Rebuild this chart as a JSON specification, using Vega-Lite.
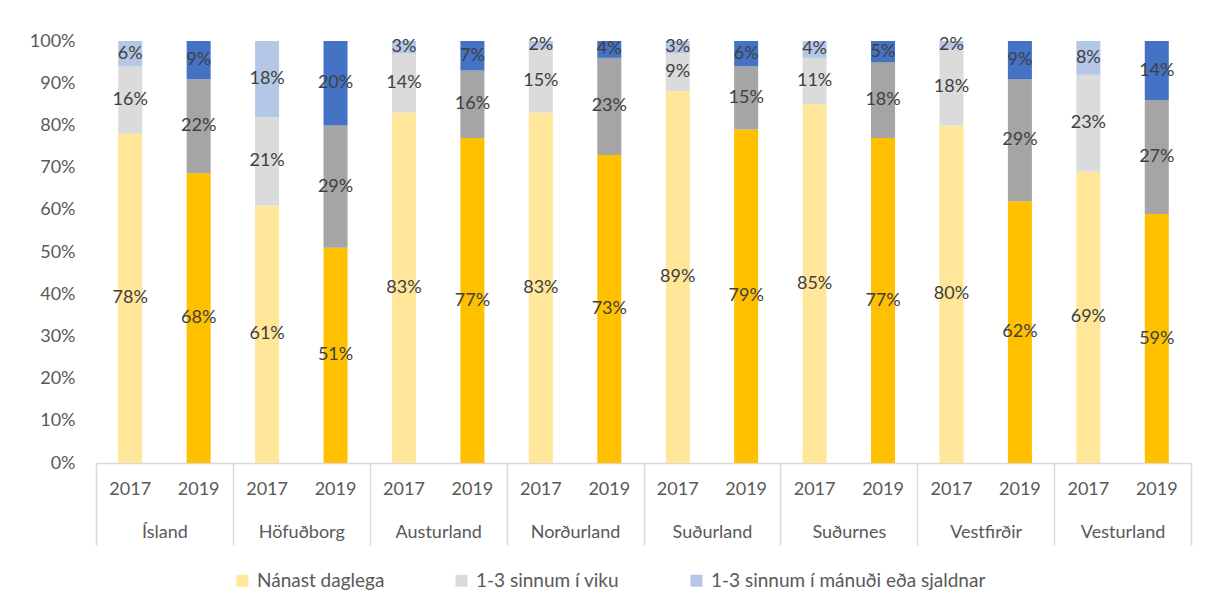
{
  "$schema": "https://vega.github.io/schema/vega-lite/v6.json",
  "autosize": {"type": "none"},
  "padding": {"left": 96, "top": 41, "right": 17, "bottom": 147},
  "width": 1095,
  "height": 422,
  "background": "#ffffff",
  "config": {"view": {"stroke": null}, "font": "Lato"},
  "data": {
    "values": [
      {"region": "Ísland", "year": "2017", "cat": "Nánast daglega", "pct": 78},
      {"region": "Ísland", "year": "2017", "cat": "1-3 sinnum í viku", "pct": 16},
      {"region": "Ísland", "year": "2017", "cat": "1-3 sinnum í mánuði eða sjaldnar", "pct": 6},
      {"region": "Ísland", "year": "2019", "cat": "Nánast daglega", "pct": 68},
      {"region": "Ísland", "year": "2019", "cat": "1-3 sinnum í viku", "pct": 22},
      {"region": "Ísland", "year": "2019", "cat": "1-3 sinnum í mánuði eða sjaldnar", "pct": 9},
      {"region": "Höfuðborg", "year": "2017", "cat": "Nánast daglega", "pct": 61},
      {"region": "Höfuðborg", "year": "2017", "cat": "1-3 sinnum í viku", "pct": 21},
      {"region": "Höfuðborg", "year": "2017", "cat": "1-3 sinnum í mánuði eða sjaldnar", "pct": 18},
      {"region": "Höfuðborg", "year": "2019", "cat": "Nánast daglega", "pct": 51},
      {"region": "Höfuðborg", "year": "2019", "cat": "1-3 sinnum í viku", "pct": 29},
      {"region": "Höfuðborg", "year": "2019", "cat": "1-3 sinnum í mánuði eða sjaldnar", "pct": 20},
      {"region": "Austurland", "year": "2017", "cat": "Nánast daglega", "pct": 83},
      {"region": "Austurland", "year": "2017", "cat": "1-3 sinnum í viku", "pct": 14},
      {"region": "Austurland", "year": "2017", "cat": "1-3 sinnum í mánuði eða sjaldnar", "pct": 3},
      {"region": "Austurland", "year": "2019", "cat": "Nánast daglega", "pct": 77},
      {"region": "Austurland", "year": "2019", "cat": "1-3 sinnum í viku", "pct": 16},
      {"region": "Austurland", "year": "2019", "cat": "1-3 sinnum í mánuði eða sjaldnar", "pct": 7},
      {"region": "Norðurland", "year": "2017", "cat": "Nánast daglega", "pct": 83},
      {"region": "Norðurland", "year": "2017", "cat": "1-3 sinnum í viku", "pct": 15},
      {"region": "Norðurland", "year": "2017", "cat": "1-3 sinnum í mánuði eða sjaldnar", "pct": 2},
      {"region": "Norðurland", "year": "2019", "cat": "Nánast daglega", "pct": 73},
      {"region": "Norðurland", "year": "2019", "cat": "1-3 sinnum í viku", "pct": 23},
      {"region": "Norðurland", "year": "2019", "cat": "1-3 sinnum í mánuði eða sjaldnar", "pct": 4},
      {"region": "Suðurland", "year": "2017", "cat": "Nánast daglega", "pct": 89},
      {"region": "Suðurland", "year": "2017", "cat": "1-3 sinnum í viku", "pct": 9},
      {"region": "Suðurland", "year": "2017", "cat": "1-3 sinnum í mánuði eða sjaldnar", "pct": 3},
      {"region": "Suðurland", "year": "2019", "cat": "Nánast daglega", "pct": 79},
      {"region": "Suðurland", "year": "2019", "cat": "1-3 sinnum í viku", "pct": 15},
      {"region": "Suðurland", "year": "2019", "cat": "1-3 sinnum í mánuði eða sjaldnar", "pct": 6},
      {"region": "Suðurnes", "year": "2017", "cat": "Nánast daglega", "pct": 85},
      {"region": "Suðurnes", "year": "2017", "cat": "1-3 sinnum í viku", "pct": 11},
      {"region": "Suðurnes", "year": "2017", "cat": "1-3 sinnum í mánuði eða sjaldnar", "pct": 4},
      {"region": "Suðurnes", "year": "2019", "cat": "Nánast daglega", "pct": 77},
      {"region": "Suðurnes", "year": "2019", "cat": "1-3 sinnum í viku", "pct": 18},
      {"region": "Suðurnes", "year": "2019", "cat": "1-3 sinnum í mánuði eða sjaldnar", "pct": 5},
      {"region": "Vestfirðir", "year": "2017", "cat": "Nánast daglega", "pct": 80},
      {"region": "Vestfirðir", "year": "2017", "cat": "1-3 sinnum í viku", "pct": 18},
      {"region": "Vestfirðir", "year": "2017", "cat": "1-3 sinnum í mánuði eða sjaldnar", "pct": 2},
      {"region": "Vestfirðir", "year": "2019", "cat": "Nánast daglega", "pct": 62},
      {"region": "Vestfirðir", "year": "2019", "cat": "1-3 sinnum í viku", "pct": 29},
      {"region": "Vestfirðir", "year": "2019", "cat": "1-3 sinnum í mánuði eða sjaldnar", "pct": 9},
      {"region": "Vesturland", "year": "2017", "cat": "Nánast daglega", "pct": 69},
      {"region": "Vesturland", "year": "2017", "cat": "1-3 sinnum í viku", "pct": 23},
      {"region": "Vesturland", "year": "2017", "cat": "1-3 sinnum í mánuði eða sjaldnar", "pct": 8},
      {"region": "Vesturland", "year": "2019", "cat": "Nánast daglega", "pct": 59},
      {"region": "Vesturland", "year": "2019", "cat": "1-3 sinnum í viku", "pct": 27},
      {"region": "Vesturland", "year": "2019", "cat": "1-3 sinnum í mánuði eða sjaldnar", "pct": 14}
    ]
  },
  "encoding": {
    "x": {
      "field": "region",
      "type": "nominal",
      "sort": ["Ísland", "Höfuðborg", "Austurland", "Norðurland", "Suðurland", "Suðurnes", "Vestfirðir", "Vesturland"],
      "scale": {"paddingInner": 0, "paddingOuter": 0},
      "axis": {
        "title": null,
        "orient": "bottom",
        "tickBand": "extent",
        "ticks": true,
        "tickSize": 82,
        "tickColor": "#D9D9D9",
        "tickWidth": 1.5,
        "domainColor": "#D9D9D9",
        "domainWidth": 1.5,
        "labelAngle": 0,
        "labelFontSize": 18,
        "labelColor": "#595959",
        "labelPadding": -22,
        "grid": false
      }
    },
    "xOffset": {
      "field": "year",
      "type": "nominal",
      "scale": {"paddingInner": 0.649, "paddingOuter": 0.3245}
    }
  },
  "layer": [
    {
      "transform": [{"filter": "datum.year == '2017'"}],
      "mark": {"type": "bar"},
      "encoding": {
        "y": {
          "field": "pct", "type": "quantitative", "stack": "normalize",
          "scale": {"domain": [0, 1], "nice": false},
          "axis": {"title": null, "domain": false, "ticks": false, "grid": false, "format": ".0%", "values": [0, 0.1, 0.2, 0.3, 0.4, 0.5, 0.6, 0.7, 0.8, 0.9, 1], "labelFontSize": 18, "labelColor": "#595959", "labelPadding": 21}
        },
        "order": {"field": "cat", "sort": "descending"},
        "color": {
          "field": "cat", "type": "nominal",
          "scale": {"domain": ["Nánast daglega", "1-3 sinnum í viku", "1-3 sinnum í mánuði eða sjaldnar"], "range": ["#FFE699", "#DBDBDB", "#B4C7E7"]},
          "legend": {"orient": "none", "legendX": 137, "legendY": 530, "direction": "horizontal", "title": null, "symbolType": "square", "symbolSize": 144, "symbolStrokeWidth": 0, "labelFontSize": 19, "labelColor": "#595959", "columnPadding": 67, "padding": 0, "labelOffset": 5, "labelLimit": 400}
        }
      }
    },
    {
      "transform": [{"filter": "datum.year == '2019'"}],
      "mark": {"type": "bar"},
      "encoding": {
        "y": {
          "field": "pct", "type": "quantitative", "stack": "normalize",
          "scale": {"domain": [0, 1], "nice": false},
          "axis": {"title": null, "domain": false, "ticks": false, "grid": false, "format": ".0%", "values": [0, 0.1, 0.2, 0.3, 0.4, 0.5, 0.6, 0.7, 0.8, 0.9, 1], "labelFontSize": 18, "labelColor": "#595959", "labelPadding": 21}
        },
        "order": {"field": "cat", "sort": "descending"},
        "color": {
          "field": "cat", "type": "nominal",
          "scale": {"domain": ["Nánast daglega", "1-3 sinnum í viku", "1-3 sinnum í mánuði eða sjaldnar"], "range": ["#FFC000", "#A5A5A5", "#4472C4"]},
          "legend": null
        }
      }
    },
    {
      "transform": [
        {"stack": "pct", "groupby": ["region", "year"], "sort": [{"field": "cat", "order": "descending"}], "offset": "normalize", "as": ["s0", "s1"]},
        {"calculate": "(datum.s0 + datum.s1) / 2", "as": "mid"},
        {"calculate": "datum.pct + '%'", "as": "lbl"}
      ],
      "mark": {"type": "text", "fontSize": 18, "color": "#404040", "baseline": "middle", "align": "center"},
      "encoding": {
        "y": {
          "field": "mid", "type": "quantitative",
          "scale": {"domain": [0, 1], "nice": false},
          "axis": {"title": null, "domain": false, "ticks": false, "grid": false, "format": ".0%", "values": [0, 0.1, 0.2, 0.3, 0.4, 0.5, 0.6, 0.7, 0.8, 0.9, 1], "labelFontSize": 18, "labelColor": "#595959", "labelPadding": 21}
        },
        "text": {"field": "lbl"}
      }
    },
    {
      "transform": [{"filter": "datum.cat == 'Nánast daglega'"}],
      "mark": {"type": "text", "fontSize": 18, "color": "#595959", "baseline": "middle", "align": "center", "dy": 27},
      "encoding": {
        "y": {"datum": 0, "type": "quantitative"},
        "text": {"field": "year"}
      }
    }
  ],
  "resolve": {"scale": {"color": "independent"}}
}
